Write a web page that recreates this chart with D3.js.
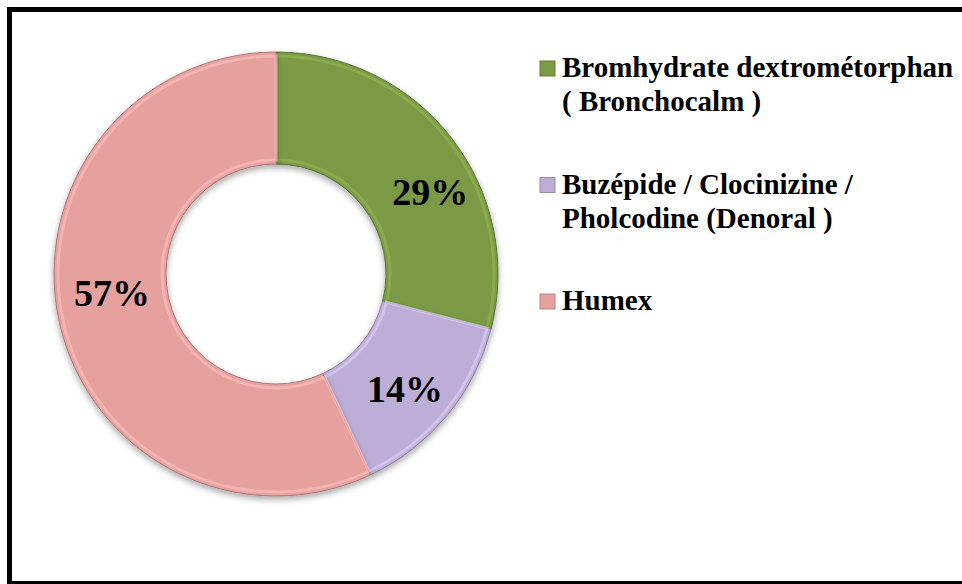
<!DOCTYPE html>
<html>
<head>
<meta charset="utf-8">
<script src="https://cdn.jsdelivr.net/npm/d3@7"></script>
<style>
  body { margin: 0; background: #fff; }
  svg { display: block; }
  .pct { font-family: "Liberation Serif", "Times New Roman", serif; font-weight: bold; font-size: 38px; fill: #000; }
  .legend text { font-family: "Liberation Serif", "Times New Roman", serif; font-weight: bold; font-size: 29px; fill: #000; }
</style>
</head>
<body>
<svg id="chart" width="962" height="584"></svg>
<script>
// slice data
const categories = ['Bromhydrate dextrométorphan ( Bronchocalm )', 'Buzépide / Clocinizine / Pholcodine (Denoral )', 'Humex'];
const legendLines = [
  ['Bromhydrate dextrométorphan', '( Bronchocalm )'],
  ['Buzépide / Clocinizine /', 'Pholcodine (Denoral )'],
  ['Humex'],
];
const values = [29, 14, 57];
const colors = ['#7b9a45', '#bcaed6', '#e6a19f'];

const svg = d3.select('#chart');
const width = +svg.attr('width');
const height = +svg.attr('height');

// frame
svg.append('rect')
  .attr('x', 9.5)
  .attr('y', 9.5)
  .attr('width', width)
  .attr('height', height - 10)
  .attr('fill', '#fff')
  .attr('stroke', '#000')
  .attr('stroke-width', 5);

const defs = svg.append('defs');
const shadow = defs.append('filter')
  .attr('id', 'shadow')
  .attr('x', '-10%').attr('y', '-10%')
  .attr('width', '120%').attr('height', '120%');
shadow.append('feDropShadow')
  .attr('dx', 0).attr('dy', 3)
  .attr('stdDeviation', 3)
  .attr('flood-color', '#000')
  .attr('flood-opacity', 0.35);

const cx = 276, cy = 274;
const outerR = 222, innerR = 110;

const pie = d3.pie().sort(null).value(d => d);
const arc = d3.arc().innerRadius(innerR).outerRadius(outerR);
const highlight = d3.arc().innerRadius(innerR + 4).outerRadius(outerR - 4);
const labelArc = d3.arc().innerRadius((innerR + outerR) / 2).outerRadius((innerR + outerR) / 2);

const g = svg.append('g')
  .attr('transform', `translate(${cx},${cy})`);

const arcs = pie(values);

const slice = g.selectAll('g.slice')
  .data(arcs)
  .enter()
  .append('g')
  .attr('class', 'slice');

slice.append('path')
  .attr('d', arc)
  .attr('fill', (d, i) => colors[i])
  .attr('stroke', (d, i) => d3.color(colors[i]).darker(0.8))
  .attr('stroke-width', 1)
  .attr('filter', 'url(#shadow)');

// soft bevel
slice.append('path')
  .attr('d', highlight)
  .attr('fill', 'none')
  .attr('stroke', (d, i) => d3.color(colors[i]).brighter(0.5))
  .attr('stroke-opacity', 0.6)
  .attr('stroke-width', 3);

const labelOffsets = [[23, 19], [1, 9], [-2, -18]];
slice.append('text')
  .attr('class', 'pct')
  .attr('text-anchor', 'middle')
  .attr('transform', (d, i) => {
    const c = labelArc.centroid(d);
    return `translate(${c[0] + labelOffsets[i][0]},${c[1] + labelOffsets[i][1]})`;
  })
  .attr('dy', '0.35em')
  .text(d => `${d.value}%`);

// legend
const legendY = d3.scalePoint()
  .domain(categories)
  .range([61, 294]);

const legend = svg.append('g')
  .attr('class', 'legend')
  .selectAll('g')
  .data(categories)
  .enter()
  .append('g')
  .attr('transform', d => `translate(540,${legendY(d)})`);

legend.append('rect')
  .attr('width', 15)
  .attr('height', 15)
  .attr('fill', (d, i) => colors[i])
  .attr('stroke', (d, i) => d3.color(colors[i]).darker(0.6))
  .attr('stroke-width', 1);

legend.append('text')
  .attr('x', 22)
  .selectAll('tspan')
  .data((d, i) => legendLines[i])
  .enter()
  .append('tspan')
  .attr('x', 22)
  .attr('y', (d, i) => 16 + i * 34)
  .text(d => d);
</script>
</body>
</html>
